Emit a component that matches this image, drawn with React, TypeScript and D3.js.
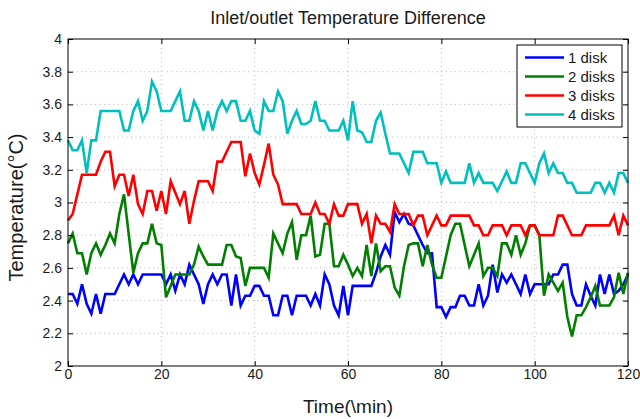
import * as d3 from "d3";
import React, { useEffect, useRef } from "react";

// minutes 0..120, one sample per minute
const time = d3.range(0, 121);

const disk1 = [
  2.44, 2.44, 2.38, 2.50, 2.38, 2.32, 2.44, 2.32, 2.44, 2.44,
  2.44, 2.50, 2.56, 2.50, 2.56, 2.50, 2.56, 2.56, 2.56, 2.56,
  2.56, 2.50, 2.56, 2.46, 2.56, 2.50, 2.62, 2.56, 2.50, 2.38,
  2.50, 2.56, 2.50, 2.56, 2.56, 2.37, 2.56, 2.37, 2.43, 2.43,
  2.49, 2.49, 2.43, 2.43, 2.31, 2.31, 2.43, 2.43, 2.31, 2.43,
  2.43, 2.43, 2.37, 2.44, 2.37, 2.56, 2.50, 2.37, 2.31, 2.49,
  2.31, 2.49, 2.49, 2.49, 2.49, 2.49, 2.57, 2.67, 2.74, 2.68,
  2.94, 2.88, 2.93, 2.87, 2.86, 2.80, 2.74, 2.69, 2.69, 2.36,
  2.36, 2.30, 2.36, 2.36, 2.43, 2.43, 2.37, 2.37, 2.50, 2.37,
  2.43, 2.62, 2.45, 2.56, 2.51, 2.56, 2.50, 2.44, 2.56, 2.44,
  2.50, 2.50, 2.50, 2.50, 2.56, 2.56, 2.62, 2.62, 2.44, 2.37,
  2.37, 2.50, 2.43, 2.37, 2.56, 2.44, 2.56, 2.44, 2.46, 2.50,
  2.56,
];

const disk2 = [
  2.75, 2.81, 2.69, 2.69, 2.56, 2.69, 2.75, 2.68, 2.74, 2.81,
  2.75, 2.93, 3.05, 2.81, 2.57, 2.69, 2.75, 2.75, 2.87, 2.75,
  2.74, 2.42, 2.49, 2.56, 2.56, 2.56, 2.56, 2.62, 2.73, 2.67,
  2.62, 2.62, 2.62, 2.62, 2.74, 2.74, 2.67, 2.66, 2.49, 2.60,
  2.60, 2.60, 2.60, 2.54, 2.81, 2.75, 2.69, 2.81, 2.88, 2.65,
  2.80, 2.80, 2.92, 2.67, 2.68, 2.87, 2.87, 2.61, 2.61, 2.68,
  2.62, 2.55, 2.60, 2.55, 2.74, 2.55, 2.75, 2.58, 2.61, 2.61,
  2.48, 2.43, 2.61, 2.74, 2.75, 2.75, 2.61, 2.74, 2.62, 2.54,
  2.54, 2.67, 2.80, 2.87, 2.87, 2.74, 2.61, 2.68, 2.75, 2.55,
  2.60, 2.60, 2.55, 2.75, 2.75, 2.68, 2.80, 2.68, 2.75, 2.86,
  2.86, 2.80, 2.43, 2.56, 2.51, 2.46, 2.51, 2.30, 2.18, 2.31,
  2.31, 2.36, 2.42, 2.49, 2.37, 2.37, 2.37, 2.42, 2.57, 2.44,
  2.57,
];

const disk3 = [
  2.89, 2.93, 3.05, 3.17, 3.17, 3.17, 3.17, 3.25, 3.31, 3.31,
  3.10, 3.17, 3.17, 3.04, 3.17, 2.99, 2.93, 3.07, 3.07, 2.95,
  3.07, 2.93, 3.13, 3.06, 2.99, 3.07, 2.87, 3.01, 3.13, 3.13,
  3.13, 3.07, 3.25, 3.25, 3.31, 3.37, 3.37, 3.37, 3.16, 3.30,
  3.18, 3.11, 3.23, 3.36, 3.17, 3.11, 2.99, 2.99, 2.99, 2.99,
  2.93, 2.93, 2.93, 3.00, 2.93, 2.93, 2.87, 2.99, 2.92, 2.92,
  2.99, 2.99, 2.99, 2.87, 2.93, 2.75, 2.92, 2.87, 2.87, 2.82,
  2.99, 2.93, 2.93, 2.93, 2.86, 2.92, 2.92, 2.80, 2.86, 2.92,
  2.86, 2.86, 2.92, 2.92, 2.92, 2.92, 2.92, 2.86, 2.86, 2.80,
  2.80, 2.86, 2.86, 2.86, 2.80, 2.86, 2.86, 2.86, 2.80, 2.86,
  2.86, 2.80, 2.80, 2.80, 2.80, 2.92, 2.92, 2.86, 2.80, 2.80,
  2.80, 2.86, 2.86, 2.86, 2.86, 2.86, 2.86, 2.92, 2.80, 2.92,
  2.86,
];

const disk4 = [
  3.38, 3.32, 3.32, 3.38, 3.18, 3.38, 3.38, 3.56, 3.56, 3.56,
  3.56, 3.56, 3.44, 3.44, 3.56, 3.62, 3.50, 3.56, 3.74, 3.68,
  3.56, 3.56, 3.56, 3.62, 3.68, 3.50, 3.50, 3.62, 3.56, 3.44,
  3.56, 3.44, 3.56, 3.62, 3.56, 3.62, 3.62, 3.50, 3.50, 3.56,
  3.44, 3.42, 3.62, 3.56, 3.56, 3.68, 3.62, 3.42, 3.50, 3.56,
  3.48, 3.48, 3.50, 3.62, 3.50, 3.50, 3.44, 3.44, 3.44, 3.50,
  3.38, 3.62, 3.44, 3.43, 3.37, 3.37, 3.50, 3.55, 3.42, 3.30,
  3.30, 3.30, 3.24, 3.18, 3.31, 3.31, 3.31, 3.24, 3.24, 3.24,
  3.12, 3.19, 3.12, 3.12, 3.12, 3.12, 3.24, 3.12, 3.18, 3.12,
  3.12, 3.12, 3.07, 3.13, 3.19, 3.12, 3.12, 3.24, 3.24, 3.18,
  3.12, 3.24, 3.30, 3.18, 3.24, 3.18, 3.18, 3.12, 3.12, 3.06,
  3.06, 3.06, 3.06, 3.12, 3.12, 3.06, 3.12, 3.06, 3.18, 3.18,
  3.12,
];

const seriesNames = ["1 disk", "2 disks", "3 disks", "4 disks"];
const seriesValues = [disk1, disk2, disk3, disk4];
const seriesColors = ["#0000ff", "#007f00", "#ff0000", "#00bfbf"];

const xTicks = [0, 20, 40, 60, 80, 100, 120];
const yTicks = [2, 2.2, 2.4, 2.6, 2.8, 3, 3.2, 3.4, 3.6, 3.8, 4];
const yTickLabels = ["2", "2.2", "2.4", "2.6", "2.8", "3", "3.2", "3.4", "3.6", "3.8", "4"];

const FONT = "'Liberation Sans', Arial, Helvetica, sans-serif";

const App = () => {
  const svgRef = useRef<SVGSVGElement>(null);

  useEffect(() => {
    const width = 640;
    const height = 419;
    const margin = { top: 39, right: 12, bottom: 53, left: 68 };

    d3.select(svgRef.current).selectAll("*").remove();

    const svg = d3.select(svgRef.current)
      .attr("width", width)
      .attr("height", height);

    svg.append("rect").attr("width", width).attr("height", height).attr("fill", "#fff");

    const chartWidth = width - margin.left - margin.right;
    const chartHeight = height - margin.top - margin.bottom;

    const chart = svg.append("g")
      .attr("transform", `translate(${margin.left},${margin.top})`);

    const xScale = d3.scaleLinear().domain([0, 120]).range([0, chartWidth]);
    const yScale = d3.scaleLinear().domain([2, 4]).range([chartHeight, 0]);

    // dotted grid
    chart.append("g")
      .selectAll("line")
      .data(xTicks.slice(1, -1))
      .enter()
      .append("line")
      .attr("x1", d => xScale(d))
      .attr("x2", d => xScale(d))
      .attr("y1", 0)
      .attr("y2", chartHeight)
      .attr("stroke", "#b4b4b4")
      .attr("stroke-dasharray", "1,3.5");

    chart.append("g")
      .selectAll("line")
      .data(yTicks.slice(1, -1))
      .enter()
      .append("line")
      .attr("x1", 0)
      .attr("x2", chartWidth)
      .attr("y1", d => yScale(d))
      .attr("y2", d => yScale(d))
      .attr("stroke", "#b4b4b4")
      .attr("stroke-dasharray", "1,3.5");

    // series
    const line = d3.line<number>()
      .x((_, i) => xScale(time[i]))
      .y(d => yScale(d));

    seriesValues.forEach((vals, i) => {
      chart.append("path")
        .datum(vals)
        .attr("fill", "none")
        .attr("stroke", seriesColors[i])
        .attr("stroke-width", 2.6)
        .attr("stroke-linejoin", "miter")
        .attr("d", line);
    });

    // axes with inward ticks (MATLAB look)
    const styleAxis = (g: any) => {
      g.select(".domain").remove();
      g.selectAll("line").attr("stroke", "#000");
      g.selectAll("text")
        .attr("fill", "#1a1a1a")
        .style("font-family", FONT)
        .style("font-size", "14px");
    };

    chart.append("g")
      .attr("transform", `translate(0,${chartHeight})`)
      .call(d3.axisBottom(xScale).tickValues(xTicks).tickSizeInner(-5).tickSizeOuter(0).tickPadding(3))
      .call(styleAxis);

    chart.append("g")
      .call(d3.axisTop(xScale).tickValues(xTicks).tickSizeInner(-5).tickSizeOuter(0).tickFormat(() => ""))
      .call(styleAxis);

    chart.append("g")
      .call(d3.axisLeft(yScale).tickValues(yTicks).tickSizeInner(-5).tickSizeOuter(0).tickPadding(6)
        .tickFormat((d, i) => yTickLabels[i]))
      .call(styleAxis);

    chart.append("g")
      .attr("transform", `translate(${chartWidth},0)`)
      .call(d3.axisRight(yScale).tickValues(yTicks).tickSizeInner(-5).tickSizeOuter(0).tickFormat(() => ""))
      .call(styleAxis);

    // box
    chart.append("rect")
      .attr("width", chartWidth)
      .attr("height", chartHeight)
      .attr("fill", "none")
      .attr("stroke", "#000")
      .attr("stroke-width", 1);

    // legend
    const legend = chart.append("g")
      .attr("transform", `translate(${chartWidth - 111},6)`);

    legend.append("rect")
      .attr("width", 105)
      .attr("height", 82)
      .attr("fill", "#fff")
      .attr("stroke", "#000");

    seriesNames.forEach((name, i) => {
      const yy = 12.5 + i * 19;
      legend.append("line")
        .attr("x1", 8)
        .attr("x2", 47)
        .attr("y1", yy)
        .attr("y2", yy)
        .attr("stroke", seriesColors[i])
        .attr("stroke-width", 2.6);
      legend.append("text")
        .attr("x", 51)
        .attr("y", yy)
        .attr("dy", "0.35em")
        .attr("fill", "#1a1a1a")
        .style("font-family", FONT)
        .style("font-size", "15px")
        .text(name);
    });

    // title and axis labels
    svg.append("text")
      .attr("x", margin.left + chartWidth / 2)
      .attr("y", 24)
      .attr("text-anchor", "middle")
      .attr("fill", "#1a1a1a")
      .style("font-family", FONT)
      .style("font-size", "18px")
      .text("Inlet/outlet Temperature Difference");

    svg.append("text")
      .attr("x", margin.left + chartWidth / 2)
      .attr("y", 413)
      .attr("text-anchor", "middle")
      .attr("fill", "#1a1a1a")
      .style("font-family", FONT)
      .style("font-size", "19px")
      .text("Time(\\min)");

    svg.append("text")
      .attr("transform", `translate(23,${margin.top + chartHeight / 2 + 5}) rotate(-90)`)
      .attr("text-anchor", "middle")
      .attr("fill", "#1a1a1a")
      .style("font-family", FONT)
      .style("font-size", "20px")
      .text("Temperature(\u00B0C)");
  }, []);

  return (
    <div style={{ position: "absolute", left: 0, top: 0, width: 640, height: 419 }}>
      <svg ref={svgRef} style={{ display: "block" }} />
    </div>
  );
};

export default App;
